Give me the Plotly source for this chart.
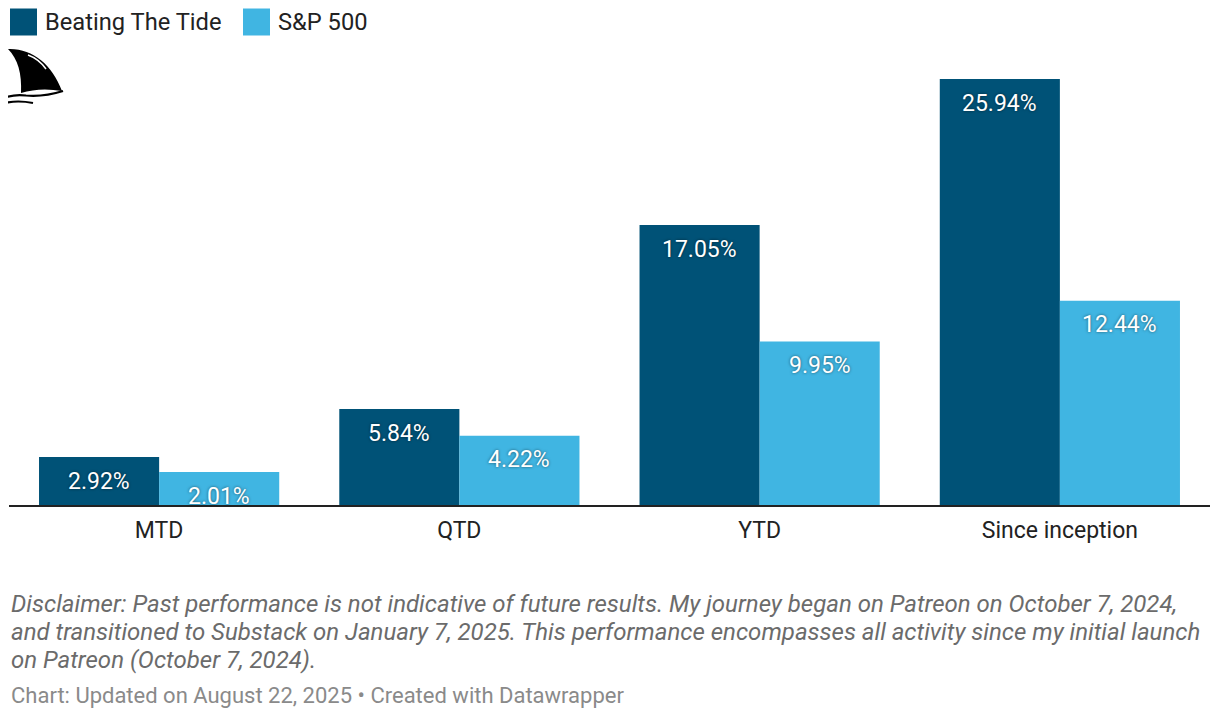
import plotly.graph_objects as go

categories = ["MTD", "QTD", "YTD", "Since inception"]
btt_values = [2.92, 5.84, 17.05, 25.94]
sp_values = [2.01, 4.22, 9.95, 12.44]
series_names = ["Beating The Tide", "S&P 500"]
colors = ["#005277", "#40b5e2"]

disclaimer_lines = [
    "Disclaimer: Past performance is not indicative of future results. My journey began on Patreon on October 7, 2024,",
    "and transitioned to Substack on January 7, 2025. This performance encompasses all activity since my initial launch",
    "on Patreon (October 7, 2024).",
]
footer = "Chart: Updated on August 22, 2025 \u2022 Created with Datawrapper"

OFF = 8  # page body margin
W, H = 1218 - 2 * OFF, 717 - 2 * OFF
FONT = "Roboto"

def px(x):
    return (x - OFF) / W

def py(y):
    return 1 - (y - OFF) / H

xs = list(range(len(categories)))

fig = go.Figure()
for name, vals, col in zip(series_names, [btt_values, sp_values], colors):
    fig.add_trace(go.Bar(x=xs, y=vals, name=name, marker=dict(color=col, line=dict(width=0)),
                         showlegend=False, hoverinfo="skip"))

annotations = []
shadow = "0px 0px 3px rgba(0,0,0,0.55)"
for vals, off in [(btt_values, -0.2), (sp_values, 0.2)]:
    for i, v in enumerate(vals):
        annotations.append(dict(x=xs[i] + off, y=v, xref="x", yref="y", text=f"{v:.2f}%",
                                showarrow=False, yanchor="middle", xanchor="center", yshift=-24,
                                font=dict(family=FONT, size=23, color="white", shadow=shadow)))

# legend (manual)
shapes = []
leg_items = [(10, 43), (243, 276)]
for (sx, tx), name, col in zip(leg_items, series_names, colors):
    shapes.append(dict(type="rect", xref="paper", yref="paper", x0=px(sx), x1=px(sx + 27),
                       y0=py(35.5), y1=py(8.5), fillcolor=col, line=dict(width=0)))
    annotations.append(dict(x=px(tx), y=py(22), xref="paper", yref="paper", text=name,
                            showarrow=False, xanchor="left", yanchor="middle",
                            font=dict(family=FONT, size=23.7, color="#222222")))

def path(cmds):
    out = []
    for c in cmds:
        if isinstance(c, str):
            out.append(c)
        else:
            out.append(f"{px(c[0]):.5f},{py(c[1]):.5f}")
    return " ".join(out)

fin = path(["M", (8, 49), "C", (32, 48), (52, 64), (62, 91), "Q", (40, 87), (21, 93),
            "C", (22, 74), (18, 59), (8, 49), "Z"])
shapes.append(dict(type="path", xref="paper", yref="paper", path=fin, fillcolor="black",
                   line=dict(width=0)))
hl = path(["M", (28, 55), "Q", (39, 59), (46, 69)])
shapes.append(dict(type="path", xref="paper", yref="paper", path=hl, line=dict(color="white", width=1.5)))
w1 = path(["M", (4, 98), "Q", (14, 94), (26, 95.5), "Q", (44, 97), (63, 91)])
shapes.append(dict(type="path", xref="paper", yref="paper", path=w1, line=dict(color="black", width=2.2)))
w2 = path(["M", (4, 103), "Q", (18, 100), (33, 103)])
shapes.append(dict(type="path", xref="paper", yref="paper", path=w2, line=dict(color="black", width=2.2)))

for k, line in enumerate(disclaimer_lines):
    annotations.append(dict(x=px(9), y=py(604 + 28 * k), xref="paper", yref="paper", text=line,
                            showarrow=False, xanchor="left", yanchor="middle",
                            font=dict(family=FONT, size=24, color="#6b6b6b", style="italic")))
annotations.append(dict(x=px(9), y=py(695), xref="paper", yref="paper", text=footer,
                        showarrow=False, xanchor="left", yanchor="middle",
                        font=dict(family=FONT, size=22, color="#8a8a8a")))

scale = 16.42
top_px = 60
fig.update_layout(
    width=W, height=H,
    margin=dict(l=0, r=0, t=0, b=0),
    paper_bgcolor="white", plot_bgcolor="white",
    barmode="group", bargap=0.2, bargroupgap=0,
    showlegend=False,
    xaxis=dict(domain=[px(9), min(1.0, px(1211))], range=[-0.5, 3.5], tickvals=xs, ticktext=categories,
               showline=True, linecolor="#222222", linewidth=2, showgrid=False, zeroline=False,
               ticks="", ticklabelstandoff=3, tickfont=dict(family=FONT, size=23, color="#222222"),
               fixedrange=True),
    yaxis=dict(domain=[py(505), py(top_px)], range=[0, (505 - top_px) / scale], visible=False,
               showgrid=False, zeroline=False, fixedrange=True),
    annotations=annotations,
    shapes=shapes,
    font=dict(family=FONT),
)

fig.write_html("out.html", config={"displayModeBar": False})
